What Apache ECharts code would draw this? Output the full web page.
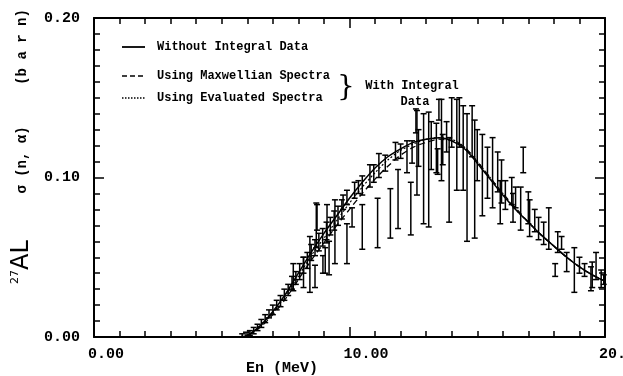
<!DOCTYPE html>
<html>
<head>
<meta charset="utf-8">
<script src="https://cdn.jsdelivr.net/npm/echarts@6/dist/echarts.min.js"></script>
<style>
  html, body { margin: 0; padding: 0; background: #fff; }
  #chart { width: 623px; height: 376px; }
</style>
</head>
<body>
<div id="chart"></div>
<script>
// evaluated curves (En in MeV, sigma in barn)
const curveE = [5.6, 6.0, 6.5, 7.0, 7.5, 8.0, 8.5, 9.0, 9.5, 10.0, 10.5, 11.0, 11.5, 12.0, 12.5, 13.0, 13.5, 14.0, 14.5, 15.0, 15.5, 16.0, 16.5, 17.0, 17.5, 18.0, 18.5, 19.0, 19.5, 20.0];
const withoutIntegral = [0, 0.001, 0.007, 0.016, 0.027, 0.040, 0.053, 0.065, 0.076, 0.087, 0.097, 0.106, 0.113, 0.118, 0.122, 0.124, 0.125, 0.123, 0.118, 0.109, 0.099, 0.089, 0.080, 0.072, 0.064, 0.057, 0.050, 0.044, 0.039, 0.035];
const maxwellian = [0, 0.001, 0.006, 0.014, 0.024, 0.036, 0.048, 0.059, 0.070, 0.080, 0.090, 0.099, 0.107, 0.114, 0.119, 0.122, 0.124, 0.123, 0.119, 0.110, 0.100, 0.090, 0.081, 0.072, 0.064, 0.057, 0.050, 0.044, 0.039, 0.035];
const evaluated = [0, 0.001, 0.007, 0.015, 0.026, 0.038, 0.051, 0.062, 0.073, 0.084, 0.094, 0.103, 0.111, 0.117, 0.121, 0.124, 0.125, 0.124, 0.119, 0.110, 0.100, 0.090, 0.080, 0.072, 0.064, 0.057, 0.050, 0.044, 0.039, 0.035];

// measured points: energy, lower and upper end of error bar
const expE = [5.8, 5.95, 6.1, 6.25, 6.4, 6.55, 6.7, 6.85, 7.0, 7.15, 7.3, 7.45, 7.6, 7.75, 7.8, 7.9, 8.05, 8.2, 8.2, 8.35, 8.45, 8.5, 8.65, 8.65, 8.7, 8.73, 8.8, 8.95, 8.96, 9.05, 9.1, 9.12, 9.2, 9.25, 9.4, 9.43, 9.55, 9.7,
  9.75, 9.9, 9.9, 10.1, 10.2, 10.35, 10.5, 10.5, 10.8, 10.95, 11.1, 11.15, 11.4, 11.6, 11.8, 11.9, 12.0, 12.25, 12.4,
  12.45, 12.6, 12.64, 12.7, 12.9, 13.1, 13.2, 13.4, 13.45, 13.5, 13.6, 13.65, 13.8, 13.9, 14.0, 14.2, 14.3, 14.45, 14.6, 14.8, 14.9, 15.0, 15.2, 15.4, 15.6, 15.8, 15.9, 15.95,
  16.1, 16.35, 16.4, 16.5, 16.7, 16.8, 17.0, 17.05, 17.25, 17.4, 17.6, 17.8, 18.05, 18.15, 18.3, 18.5, 18.8, 19.0, 19.2, 19.45, 19.5, 19.65, 19.85, 19.95];
const expLow = [0.000, 0.000, 0.001, 0.002, 0.004, 0.006, 0.009, 0.012, 0.014, 0.017, 0.019, 0.023, 0.026, 0.030, 0.029, 0.033, 0.036, 0.040, 0.031, 0.043, 0.028, 0.048, 0.051, 0.031, 0.056, 0.067, 0.054, 0.057, 0.040, 0.040, 0.061, 0.059, 0.039, 0.064, 0.067, 0.046, 0.070, 0.074,
  0.080, 0.046, 0.083, 0.069, 0.087, 0.090, 0.055, 0.089, 0.094, 0.097, 0.056, 0.100, 0.104, 0.062, 0.111, 0.068, 0.112, 0.103, 0.064,
  0.109, 0.128, 0.089, 0.107, 0.071, 0.069, 0.105, 0.103, 0.102, 0.136, 0.098, 0.108, 0.116, 0.072, 0.119, 0.092, 0.119, 0.092, 0.060, 0.113, 0.062, 0.098, 0.076, 0.087, 0.081, 0.091, 0.071, 0.084,
  0.080, 0.083, 0.072, 0.081, 0.067, 0.103, 0.071, 0.063, 0.066, 0.061, 0.058, 0.055, 0.038, 0.053, 0.055, 0.041, 0.028, 0.040, 0.038, 0.029, 0.031, 0.036, 0.031, 0.033];
const expHigh = [0.002, 0.003, 0.004, 0.006, 0.008, 0.011, 0.014, 0.017, 0.020, 0.023, 0.026, 0.030, 0.033, 0.038, 0.046, 0.041, 0.046, 0.050, 0.050, 0.053, 0.063, 0.058, 0.061, 0.045, 0.084, 0.083, 0.065, 0.068, 0.051, 0.056, 0.072, 0.083, 0.060, 0.075, 0.079, 0.086, 0.082, 0.086,
  0.089, 0.071, 0.092, 0.081, 0.097, 0.098, 0.083, 0.101, 0.108, 0.108, 0.087, 0.115, 0.114, 0.093, 0.122, 0.105, 0.121, 0.123, 0.097,
  0.123, 0.143, 0.142, 0.130, 0.140, 0.141, 0.135, 0.134, 0.118, 0.149, 0.149, 0.127, 0.135, 0.125, 0.150, 0.149, 0.150, 0.145, 0.140, 0.145, 0.136, 0.130, 0.127, 0.119, 0.125, 0.116, 0.098, 0.111,
  0.098, 0.100, 0.090, 0.094, 0.094, 0.119, 0.091, 0.086, 0.080, 0.075, 0.072, 0.081, 0.046, 0.066, 0.063, 0.053, 0.056, 0.050, 0.046, 0.044, 0.047, 0.053, 0.042, 0.039];

const xTicks = [0, 10, 20];
const yTicks = [0, 0.1, 0.2];

const monoFont = '"Liberation Mono", "DejaVu Sans Mono", monospace';

const chart = echarts.init(document.getElementById('chart'), null, { renderer: 'canvas' });

function pairs(xs, ys) {
  return xs.map((x, i) => [x, ys[i]]);
}

const errData = expE.map((e, i) => [e, expLow[i], expHigh[i]]);

const axisCommon = {
  axisLine: { show: true, onZero: false, lineStyle: { color: '#000', width: 2 } },
  axisTick: { show: true, inside: true, length: 10, lineStyle: { color: '#000', width: 1.5 } },
  minorTick: { show: true, splitNumber: 10, length: 6, lineStyle: { color: '#000', width: 1.5 } },
  splitLine: { show: false },
  minorSplitLine: { show: false }
};

const option = {
  backgroundColor: '#fff',
  animation: false,
  grid: { left: 94, right: 18, top: 18, bottom: 39, containLabel: false, outerBoundsMode: 'none' },
  xAxis: [
    Object.assign({
      type: 'value', min: xTicks[0], max: xTicks[2], interval: xTicks[1] - xTicks[0], position: 'bottom',
      axisLabel: {
        show: true, margin: 10, align: 'left', padding: [0, 0, 0, -6],
        fontFamily: monoFont, fontWeight: 'bold', fontSize: 15, color: '#000',
        formatter: v => v.toFixed(2)
      }
    }, axisCommon),
    Object.assign({
      type: 'value', min: xTicks[0], max: xTicks[2], interval: xTicks[1] - xTicks[0], position: 'top',
      axisLabel: { show: false }
    }, axisCommon)
  ],
  yAxis: [
    Object.assign({
      type: 'value', min: yTicks[0], max: yTicks[2], interval: yTicks[1] - yTicks[0], position: 'left',
      axisLabel: {
        show: true, margin: 14,
        fontFamily: monoFont, fontWeight: 'bold', fontSize: 15, color: '#000',
        formatter: v => v.toFixed(2)
      }
    }, axisCommon),
    Object.assign({
      type: 'value', min: yTicks[0], max: yTicks[2], interval: yTicks[1] - yTicks[0], position: 'right',
      axisLabel: { show: false }
    }, axisCommon)
  ],
  series: [
    {
      name: 'Without Integral Data', type: 'line', smooth: 0.3, showSymbol: false,
      data: pairs(curveE, withoutIntegral),
      lineStyle: { color: '#000', width: 1.5, type: 'solid' }
    },
    {
      name: 'Using Maxwellian Spectra', type: 'line', smooth: 0.3, showSymbol: false,
      data: pairs(curveE, maxwellian),
      lineStyle: { color: '#000', width: 1.3, type: [6, 4] }
    },
    {
      name: 'Using Evaluated Spectra', type: 'line', smooth: 0.3, showSymbol: false,
      data: pairs(curveE, evaluated),
      lineStyle: { color: '#000', width: 1.2, type: [2, 2] }
    },
    {
      name: 'measured', type: 'custom',
      encode: { x: 0, y: [1, 2] },
      data: errData,
      renderItem: function (params, api) {
        const e = api.value(0);
        const lo = api.coord([e, api.value(1)]);
        const hi = api.coord([e, api.value(2)]);
        const cap = 3;
        const style = { stroke: '#000', lineWidth: 1.5 };
        return {
          type: 'group',
          children: [
            { type: 'line', shape: { x1: lo[0], y1: lo[1], x2: hi[0], y2: hi[1] }, style: style },
            { type: 'line', shape: { x1: lo[0] - cap, y1: lo[1], x2: lo[0] + cap, y2: lo[1] }, style: style },
            { type: 'line', shape: { x1: hi[0] - cap, y1: hi[1], x2: hi[0] + cap, y2: hi[1] }, style: style }
          ]
        };
      }
    }
  ],
  graphic: [
    // legend
    { type: 'line', shape: { x1: 122, y1: 47, x2: 145, y2: 47 }, style: { stroke: '#000', lineWidth: 1.8 } },
    { type: 'text', x: 157, y: 47, style: { text: 'Without Integral Data', font: 'bold 12px ' + monoFont, fill: '#000', textVerticalAlign: 'middle' } },
    { type: 'line', shape: { x1: 122, y1: 76, x2: 145, y2: 76 }, style: { stroke: '#000', lineWidth: 1.6, lineDash: [5, 3] } },
    { type: 'text', x: 157, y: 76, style: { text: 'Using Maxwellian Spectra', font: 'bold 12px ' + monoFont, fill: '#000', textVerticalAlign: 'middle' } },
    { type: 'line', shape: { x1: 122, y1: 98, x2: 145, y2: 98 }, style: { stroke: '#000', lineWidth: 1.4, lineDash: [1.5, 1.5] } },
    { type: 'text', x: 157, y: 98, style: { text: 'Using Evaluated Spectra', font: 'bold 12px ' + monoFont, fill: '#000', textVerticalAlign: 'middle' } },
    { type: 'text', x: 346, y: 88, style: { text: '}', font: '28px "DejaVu Serif", serif', fill: '#000', textVerticalAlign: 'middle', textAlign: 'center' } },
    { type: 'text', x: 412, y: 86, style: { text: 'With Integral', font: 'bold 12px ' + monoFont, fill: '#000', textVerticalAlign: 'middle', textAlign: 'center' } },
    { type: 'text', x: 415, y: 102, style: { text: 'Data', font: 'bold 12px ' + monoFont, fill: '#000', textVerticalAlign: 'middle', textAlign: 'center' } },
    // axis titles
    { type: 'text', x: 282, y: 368, style: { text: 'En (MeV)', font: 'bold 15px ' + monoFont, fill: '#000', textVerticalAlign: 'middle', textAlign: 'center' } },
    {
      type: 'text', x: 22, y: 262, rotation: Math.PI / 2,
      style: {
        text: '{s|27}{b|AL}', fill: '#000', textVerticalAlign: 'middle', textAlign: 'center',
        rich: {
          s: { fontSize: 11, fontFamily: '"DejaVu Sans", sans-serif', verticalAlign: 'top', padding: [0, 0, 8, 0] },
          b: { fontSize: 24, fontFamily: '"DejaVu Sans", sans-serif' }
        }
      }
    },
    { type: 'text', x: 22, y: 160, rotation: Math.PI / 2, style: { text: 'σ (n, α)', font: 'bold 14px ' + monoFont, fill: '#000', textVerticalAlign: 'middle', textAlign: 'center' } },
    { type: 'text', x: 22, y: 47, rotation: Math.PI / 2, style: { text: '(b a r n)', font: 'bold 14px ' + monoFont, fill: '#000', textVerticalAlign: 'middle', textAlign: 'center' } }
  ]
};

chart.setOption(option);
</script>
</body>
</html>
